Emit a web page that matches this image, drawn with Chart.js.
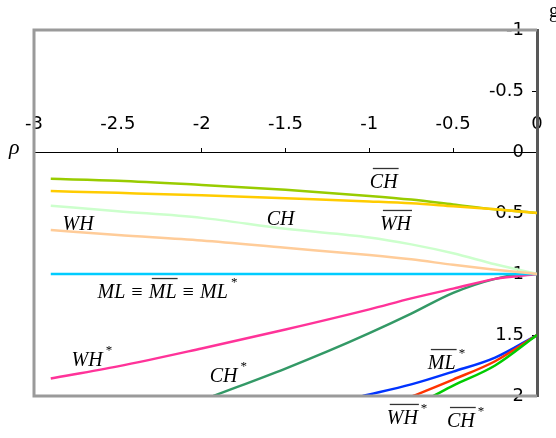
<!DOCTYPE html>
<html>
<head>
<meta charset="utf-8">
<script src="https://cdn.jsdelivr.net/npm/chart.js@4.4.0/dist/chart.umd.min.js"></script>
<style>
  html, body { margin: 0; padding: 0; background: #fff; }
  #wrap { width: 556px; height: 438px; position: relative; }
</style>
</head>
<body>
<div id="wrap"><canvas id="chart"></canvas></div>
<script>
// axis ticks
const xTickValues = [-3, -2.5, -2, -1.5, -1, -0.5, 0];
const xTickLabels = ['-3', '-2.5', '-2', '-1.5', '-1', '-0.5', '0'];
const yTickValues = [-1, -0.5, 0, 0.5, 1, 1.5, 2];
const yTickLabels = ['-1', '-0.5', '0', '0.5', '1', '1.5', '2'];

// rho values shared by the upper curves
const rho = [-2.9, -2.5, -2, -1.5, -1, -0.75, -0.5, -0.25, 0];
const chBar = [0.22, 0.235, 0.27, 0.31, 0.36, 0.39, 0.43, 0.47, 0.5];
const whBar = [0.32, 0.335, 0.355, 0.38, 0.405, 0.42, 0.445, 0.47, 0.5];
const ch = [0.44, 0.485, 0.54, 0.63, 0.70, 0.757, 0.83, 0.92, 1.0];
const wh = [0.64, 0.68, 0.725, 0.785, 0.845, 0.88, 0.925, 0.965, 1.0];
const ml = [1, 1, 1, 1, 1, 1, 1, 1, 1];
const whStar = [1.856, 1.757, 1.61, 1.455, 1.29, 1.20, 1.12, 1.04, 1.0];

// lower curves, each with its own rho values
const chStarRho = [-1.93, -1.5, -1.25, -1, -0.75, -0.5, -0.25, -0.1, 0];
const chStar = [2.0, 1.775, 1.635, 1.485, 1.325, 1.155, 1.04, 1.005, 1.0];
const mlBarStarRho = [-1.04, -0.75, -0.5, -0.25, 0];
const mlBarStar = [2.0, 1.905, 1.80, 1.685, 1.5];
const whBarStarRho = [-0.74, -0.5, -0.25, 0];
const whBarStar = [2.0, 1.865, 1.715, 1.5];
const chBarStarRho = [-0.62, -0.5, -0.25, 0];
const chBarStar = [2.0, 1.915, 1.75, 1.5];

const pts = (xs, ys) => xs.map((x, i) => ({ x: x, y: ys[i] }));

function series(label, xs, ys, color) {
  return {
    label: label,
    data: pts(xs, ys),
    borderColor: color,
    backgroundColor: color,
    borderWidth: 2.5,
    pointRadius: 0,
    showLine: true,
    fill: false,
    cubicInterpolationMode: 'monotone'
  };
}

// curve labels: left edge and vertical middle in data units
const notes = [
  { x: -0.997, y: 0.25, parts: [{ t: 'CH', bar: true }] },
  { x: -0.937, y: 0.594, parts: [{ t: 'WH', bar: true }] },
  { x: -2.83, y: 0.594, parts: [{ t: 'WH' }] },
  { x: -1.612, y: 0.553, parts: [{ t: 'CH' }] },
  { x: -2.621, y: 1.152, parts: [{ t: 'ML' }, { t: ' \u2261 ' }, { t: 'ML', bar: true }, { t: ' \u2261 ' }, { t: 'ML', star: true }] },
  { x: -2.776, y: 1.709, parts: [{ t: 'WH', star: true }] },
  { x: -1.952, y: 1.84, parts: [{ t: 'CH', star: true }] },
  { x: -0.651, y: 1.734, parts: [{ t: 'ML', bar: true, star: true }] },
  { x: -0.896, y: 2.184, parts: [{ t: 'WH', bar: true, star: true }] },
  { x: -0.537, y: 2.209, parts: [{ t: 'CH', bar: true, star: true }] }
];

const labelFont = 'italic 20px "Liberation Serif", "DejaVu Serif", serif';
const starFont = '13px "Liberation Serif", "DejaVu Serif", serif';

const framePlugin = {
  id: 'frame',
  afterDatasetsDraw(chart) {
    const a = chart.chartArea;
    const ctx = chart.ctx;
    ctx.save();
    ctx.strokeStyle = '#9a9a9a';
    ctx.lineWidth = 3;
    ctx.beginPath();
    ctx.moveTo(a.right, a.top);
    ctx.lineTo(a.left, a.top);
    ctx.lineTo(a.left, a.bottom);
    ctx.lineTo(a.right, a.bottom);
    ctx.stroke();
    ctx.restore();
  }
};

const notesPlugin = {
  id: 'notes',
  afterDraw(chart) {
    const ctx = chart.ctx;
    const sx = chart.scales.x, sy = chart.scales.y;
    ctx.save();
    ctx.fillStyle = '#000';
    ctx.textBaseline = 'middle';
    ctx.textAlign = 'left';
    notes.forEach(n => {
      let cx = sx.getPixelForValue(n.x);
      const cy = sy.getPixelForValue(n.y);
      n.parts.forEach(p => {
        ctx.font = labelFont;
        const w = ctx.measureText(p.t).width;
        ctx.fillText(p.t, cx, cy);
        if (p.bar) {
          ctx.strokeStyle = '#333';
          ctx.lineWidth = 1.3;
          ctx.beginPath();
          ctx.moveTo(cx + 3, cy - 14);
          ctx.lineTo(cx + w + 1, cy - 14);
          ctx.stroke();
        }
        cx += w;
        if (p.star) {
          ctx.font = starFont;
          ctx.fillText('*', cx + 3, cy - 10);
          cx += 10;
        }
      });
    });
    // axis symbols
    ctx.font = 'italic 22px "Liberation Serif", "DejaVu Serif", serif';
    ctx.fillText('\u03c1', 9, 148);
    ctx.font = '20px "Liberation Serif", "DejaVu Serif", serif';
    ctx.fillText('g', 549, 12);
    ctx.restore();
  }
};

new Chart(document.getElementById('chart'), {
  type: 'scatter',
  data: {
    datasets: [
      series('WH', rho, wh, '#ffcc99'),
      series('CH', rho, ch, '#ccffcc'),
      series('WH bar', rho, whBar, '#ffcc00'),
      series('CH bar', rho, chBar, '#99cc00'),
      series('ML', rho, ml, '#00ccff'),
      series('WH*', rho, whStar, '#ff3399'),
      series('CH*', chStarRho, chStar, '#339966'),
      series('CH bar*', chBarStarRho, chBarStar, '#00cc00'),
      series('WH bar*', whBarStarRho, whBarStar, '#ff3300'),
      series('ML bar*', mlBarStarRho, mlBarStar, '#0033ff')
    ]
  },
  options: {
    responsive: true,
    maintainAspectRatio: false,
    animation: false,
    layout: { padding: { left: 34, right: 19, top: 30, bottom: 42 } },
    plugins: { legend: { display: false }, tooltip: { enabled: false } },
    scales: {
      x: {
        type: 'linear',
        min: -3,
        max: 0,
        position: { y: 0 },
        afterFit: s => { s.height = 0; },
        afterBuildTicks: s => { s.ticks = xTickValues.map(v => ({ value: v })); },
        grid: { drawOnChartArea: false, drawTicks: true, tickLength: -5, color: '#000', lineWidth: 1 },
        border: { display: true, color: '#000', width: 1 },
        ticks: {
          padding: -33,
          color: '#000',
          maxRotation: 0,
          autoSkip: false,
          font: { family: 'DejaVu Sans', size: 18 },
          callback: v => xTickLabels[xTickValues.indexOf(v)]
        }
      },
      y: {
        type: 'linear',
        min: -1,
        max: 2,
        reverse: true,
        position: 'right',
        z: 1,
        afterFit: s => { s.width = 0; },
        afterBuildTicks: s => { s.ticks = yTickValues.map(v => ({ value: v })); },
        grid: { drawOnChartArea: false, drawTicks: true, tickLength: -5, color: '#000', lineWidth: 1 },
        border: { display: true, color: '#585858', width: 3 },
        ticks: {
          mirror: true,
          padding: -13,
          color: '#000',
          font: { family: 'DejaVu Sans', size: 18 },
          callback: v => yTickLabels[yTickValues.indexOf(v)]
        }
      }
    }
  },
  plugins: [framePlugin, notesPlugin]
});
</script>
</body>
</html>
